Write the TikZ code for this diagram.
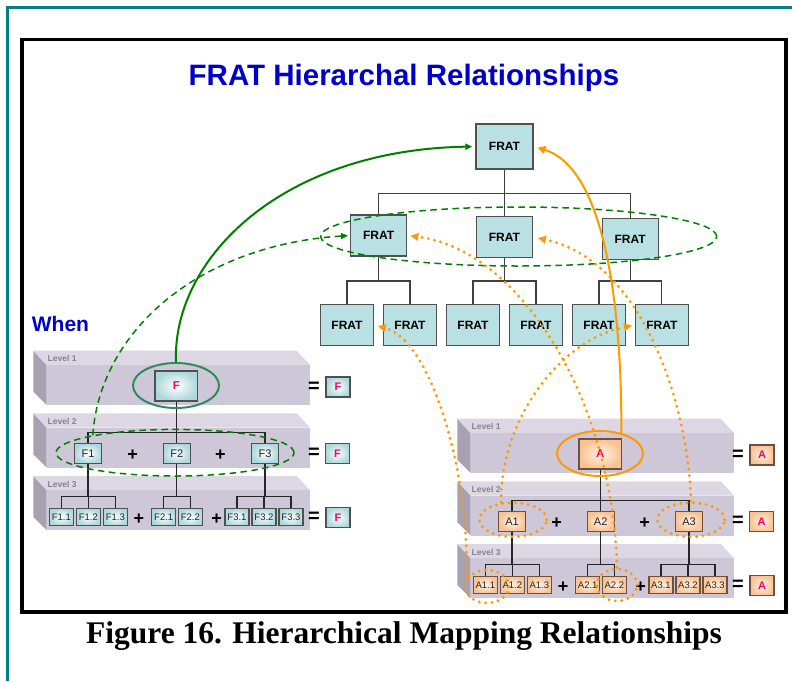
\documentclass[tikz,border=0pt]{standalone}
\usepackage{fontspec}
\setmainfont{Liberation Sans}
\newfontfamily\captionserif{Liberation Serif}
\usetikzlibrary{arrows.meta,shapes.geometric}

\definecolor{framecol}{RGB}{0,128,128}
\definecolor{titleblue}{RGB}{0,0,204}
\definecolor{fratfill}{RGB}{185,224,227}
\definecolor{boxline}{RGB}{80,80,80}
\definecolor{peachline}{RGB}{110,80,60}
\definecolor{fpink}{RGB}{255,0,102}
\definecolor{slabtop}{RGB}{220,215,227}
\definecolor{slabfront}{RGB}{206,199,215}
\definecolor{slabside}{RGB}{168,161,178}
\definecolor{levelgray}{RGB}{135,131,142}
\definecolor{cyanedge}{RGB}{172,216,220}
\definecolor{peachedge}{RGB}{248,194,146}
\definecolor{peachcore}{RGB}{255,242,230}
\definecolor{mapgreen}{RGB}{0,128,0}
\definecolor{ringgreen}{RGB}{46,140,90}
\definecolor{maporange}{RGB}{255,153,0}

\tikzset{
  treeline/.style={draw=black!85, line width=1.2pt},
  fratline/.style={draw=black!75, line width=1.1pt},
  fratbox/.style={draw=boxline, line width=1.4pt, fill=fratfill, inner sep=0pt,
    font=\bfseries\fontsize{12}{12}\selectfont},
  fratroot/.style={fratbox, minimum width=57pt, minimum height=45pt},
  fratmid/.style={fratbox, minimum width=56pt, minimum height=41pt},
  fratleaf/.style={fratbox, minimum width=52.6pt, minimum height=40.6pt},
  cyanbox/.style={draw=boxline, line width=1.2pt, inner color=white, outer color=cyanedge},
  peachbox/.style={draw=peachline, line width=1.2pt, inner color=peachcore, outer color=peachedge},
  topcell/.style={minimum width=42.7pt, minimum height=30pt, inner sep=0pt,
    font=\bfseries\fontsize{11.5}{11.5}\selectfont, text=fpink},
  eqcell/.style={minimum width=24pt, minimum height=20pt, inner sep=0pt,
    font=\bfseries\fontsize{11}{11}\selectfont, text=fpink},
  midcell/.style={minimum width=27pt, minimum height=20pt, inner sep=0pt,
    font=\fontsize{11}{11}\selectfont, text=black!85},
  leafcell/.style={minimum width=24pt, minimum height=17.5pt, inner sep=0pt,
    font=\fontsize{9.5}{9.5}\selectfont, text=black!85},
  sym/.style={inner sep=0pt, font=\bfseries\fontsize{18}{18}\selectfont},
  eqsym/.style={inner sep=0pt, font=\bfseries\fontsize{20}{20}\selectfont},
  levellabel/.style={anchor=base west, inner sep=0pt, text=levelgray,
    font=\bfseries\fontsize{8.5}{8.5}\selectfont},
  ring/.style={draw=#1, line width=2pt, ellipse, inner sep=0pt,
    minimum width=86pt, minimum height=45pt},
  greendash/.style={draw=mapgreen, line width=1.5pt, dash pattern=on 6.5pt off 4.5pt},
  dashring/.style={greendash, ellipse, inner sep=0pt},
  dotring/.style={draw=maporange, line width=3.2pt, line cap=round,
    dash pattern=on 0pt off 6.4pt, ellipse, inner sep=0pt},
  greenarrow/.style={draw=mapgreen, line width=2pt, -{Triangle[length=7pt,width=6pt]}},
  greendasharrow/.style={greendash, -{Triangle[length=7pt,width=6pt]}},
  orangearrow/.style={draw=maporange, line width=2pt, -{Triangle[length=8pt,width=8pt]}},
  orangedots/.style={draw=maporange, line width=3.2pt, line cap=round,
    dash pattern=on 0pt off 6.4pt, -{Triangle[length=8pt,width=8pt,line width=0pt]}},
}

% one shaded slab of the level stack: #1 top edge, #2 level number, #3 label name
\newcommand\levelslab[3]{%
  \fill[slabside] (33.3,#1) -- (46.7,#1+14.3) -- (46.7,#1+54.3) -- (33.3,#1+41) -- cycle;
  \fill[slabtop] (33.3,#1) -- (296.7,#1) -- (310,#1+14.3) -- (46.7,#1+14.3) -- cycle;
  \fill[slabfront] (46.7,#1+14.3) rectangle (310,#1+54.3);
  \node[levellabel] (#3) at (47.5,#1+11) {Level #2};
}

% three-level decomposition: #1 name prefix, #2 letter, #3 cell style, #4 ring colour
\newcommand\hierpanel[4]{%
  \levelslab{350.7}{1}{#1-lv1}
  \levelslab{413.3}{2}{#1-lv2}
  \levelslab{476}{3}{#1-lv3}
  % level 1
  \node[#3, topcell] (#1) at (176.3,386) {#2};
  \node[eqsym] (#1-eqs1) at (314,387) {=};
  \node[#3, eqcell] (#1-eq1) at (338,387) {#2};
  % level 2
  \node[#3, midcell] (#1-1) at (88,453.3) {#21};
  \node[#3, midcell] (#1-2) at (176.7,453.3) {#22};
  \node[#3, midcell] (#1-3) at (265,453.3) {#23};
  \node[sym] (#1-p1) at (132.7,455) {+};
  \node[sym] (#1-p2) at (220.5,455) {+};
  \node[eqsym] (#1-eqs2) at (314,453.5) {=};
  \node[#3, eqcell] (#1-eq2) at (337.5,453.3) {#2};
  % level 3
  \node[#3, leafcell] (#1-1-1) at (61.3,517) {#21.1};
  \node[#3, leafcell] (#1-1-2) at (88.3,517) {#21.2};
  \node[#3, leafcell] (#1-1-3) at (115.3,517) {#21.3};
  \node[#3, leafcell] (#1-2-1) at (163.7,517) {#22.1};
  \node[#3, leafcell] (#1-2-2) at (190.3,517) {#22.2};
  \node[#3, leafcell] (#1-3-1) at (237,517) {#23.1};
  \node[#3, leafcell] (#1-3-2) at (264,517) {#23.2};
  \node[#3, leafcell] (#1-3-3) at (291,517) {#23.3};
  \node[sym] (#1-p3) at (139,519) {+};
  \node[sym] (#1-p4) at (216.7,519) {+};
  \node[eqsym] (#1-eqs3) at (314,517.5) {=};
  \node[#3, eqcell] (#1-eq3) at (338,517.5) {#2};
  % connectors
  \draw[treeline] (#1.south) -- (#1.south |- 0,432.7);
  \draw[treeline] (#1-1.north) -- (#1-1.north |- 0,432.7) -- (#1-3.north |- 0,432.7) -- (#1-3.north);
  \draw[treeline] (#1-2.north) -- (#1-2.north |- 0,432.7);
  \draw[treeline] (#1-1.south) -- (#1-1.south |- 0,496.7);
  \draw[treeline] (#1-1-1.north) -- (#1-1-1.north |- 0,496.7) -- (#1-1-3.north |- 0,496.7) -- (#1-1-3.north);
  \draw[treeline] (#1-1-2.north) -- (#1-1-2.north |- 0,496.7);
  \draw[treeline] (#1-2.south) -- (#1-2.south |- 0,496.7);
  \draw[treeline] (#1-2-1.north) -- (#1-2-1.north |- 0,496.7) -- (#1-2-2.north |- 0,496.7) -- (#1-2-2.north);
  \draw[treeline] (#1-3.south) -- (#1-3.south |- 0,496.7);
  \draw[treeline] (#1-3-1.north) -- (#1-3-1.north |- 0,496.7) -- (#1-3-3.north |- 0,496.7) -- (#1-3-3.north);
  \draw[treeline] (#1-3-2.north) -- (#1-3-2.north |- 0,496.7);
  % ring round the top element
  \node[ring=#4] (#1-ring) at (176,385.5) {};
}

\begin{document}
\begin{tikzpicture}[x=1pt,y=-1pt]
\useasboundingbox (0,0) rectangle (792,681);

% outer page frame and figure frame
\draw[framecol, line width=3pt] (7,681) -- (7,7) -- (792,7);
\draw[black, line width=3.5pt] (22,39.5) rectangle (786,612);

\node[anchor=base, text=titleblue, font=\bfseries\fontsize{29.5}{30}\selectfont] (title)
  at (404,85) {FRAT Hierarchal Relationships};
\node[anchor=base west, inner sep=0pt, text=titleblue, font=\bfseries\fontsize{21}{21}\selectfont] (when)
  at (31.7,331.5) {When};

% FRAT tree
\node[fratroot] (root) at (504.5,146.5) {FRAT};
\node[fratmid] (frat-2-1) at (378.7,235.5) {FRAT};
\node[fratmid] (frat-2-2) at (504.3,237) {FRAT};
\node[fratmid] (frat-2-3) at (630.2,239) {FRAT};
\node[fratleaf] (frat-3-1) at (347,325) {FRAT};
\node[fratleaf] (frat-3-2) at (410,325) {FRAT};
\node[fratleaf] (frat-3-3) at (473,325) {FRAT};
\node[fratleaf] (frat-3-4) at (536,325) {FRAT};
\node[fratleaf] (frat-3-5) at (599,325) {FRAT};
\node[fratleaf] (frat-3-6) at (661.9,325) {FRAT};
\draw[fratline] (root.south) -- (root.south |- 0,193.3);
\draw[fratline] (frat-2-1.north) -- (frat-2-1.north |- 0,193.3) -- (frat-2-3.north |- 0,193.3) -- (frat-2-3.north);
\draw[fratline] (frat-2-2.north) -- (frat-2-2.north |- 0,193.3);
\draw[fratline] (frat-2-1.south) -- (frat-2-1.south |- 0,281);
\draw[fratline] (frat-3-1.north) -- (frat-3-1.north |- 0,281) -- (frat-3-2.north |- 0,281) -- (frat-3-2.north);
\draw[fratline] (frat-2-2.south) -- (frat-2-2.south |- 0,281);
\draw[fratline] (frat-3-3.north) -- (frat-3-3.north |- 0,281) -- (frat-3-4.north |- 0,281) -- (frat-3-4.north);
\draw[fratline] (frat-2-3.south) -- (frat-2-3.south |- 0,281);
\draw[fratline] (frat-3-5.north) -- (frat-3-5.north |- 0,281) -- (frat-3-6.north |- 0,281) -- (frat-3-6.north);
\node[dashring, minimum width=396pt, minimum height=59pt] (fratring) at (518.7,236.5) {};

% F decomposition
\hierpanel{f}{F}{cyanbox}{ringgreen}
\node[dashring, minimum width=238pt, minimum height=46.6pt] (f-ring2) at (175,452.7) {};

% A decomposition
\begin{scope}[shift={(424,68)}]
\hierpanel{a}{A}{peachbox}{maporange}
\end{scope}
\node[dotring, minimum width=67.4pt, minimum height=34pt] (a-dot1) at (513,519.7) {};
\node[dotring, minimum width=67.4pt, minimum height=34pt] (a-dot3) at (691,519.7) {};
\node[dotring, minimum width=44pt, minimum height=33pt] (a-dot11) at (487,586.5) {};
\node[dotring, minimum width=40pt, minimum height=32pt] (a-dot22) at (617,585) {};

% mappings into the FRAT tree
\draw[greenarrow, shorten >=3pt] (f-ring.north) .. controls (172,260) and (280,150) .. (root.west);
\draw[greendasharrow, shorten >=2pt] (f-ring2.168) .. controls (100,330) and (200,245) .. (frat-2-1.west);
\draw[orangearrow, shorten >=4pt] (a-ring.44) .. controls (622,330) and (610,170) .. (root.east);
\draw[orangedots, shorten >=4pt] (a-dot11.157) .. controls (470,470) and (430,340) .. (frat-3-1.east);
\draw[orangedots, shorten >=3pt] (a-dot22.north) .. controls (613,400) and (520,250) .. (frat-2-1.east);
\draw[orangedots, shorten >=5pt] (a-dot3.north) .. controls (688,400) and (640,260) .. (frat-2-2.east);
\draw[orangedots, shorten >=3pt] (a-dot1.124) .. controls (500,420) and (560,340) .. (frat-3-6.west);

\node[anchor=base, inner sep=0pt, font=\captionserif\bfseries\fontsize{31.5}{32}\selectfont] (caption)
  at (404,643) {Figure 16. Hierarchical Mapping Relationships};
\end{tikzpicture}
\end{document}
